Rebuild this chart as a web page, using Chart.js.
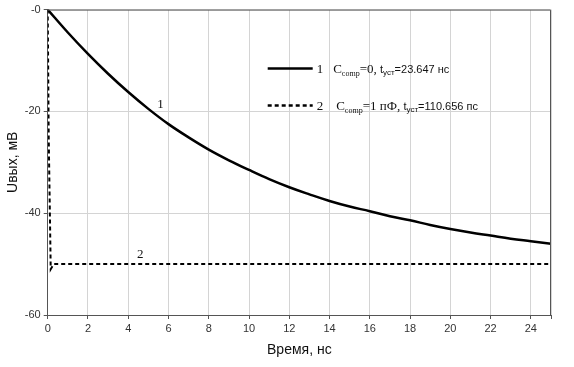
<!DOCTYPE html>
<html lang="ru">
<head>
  <meta charset="UTF-8">
  <title>Uвых(t)</title>
  <script src="https://cdn.jsdelivr.net/npm/chart.js"></script>
  <style>
    body {
      margin: 0;
      padding: 0;
      background: white;
    }
    #wrap {
      width: 574px;
      height: 367px;
    }
  </style>
</head>
<body>
<div id="wrap"><canvas id="chart"></canvas></div>

<script>
  // Time axis, ns
  const timeNs = [0, 1, 2, 3, 4, 5, 6, 7, 8, 9, 10, 11, 12, 13, 14, 15, 16, 17, 18, 19, 20, 21, 22, 23, 24, 25];
  // Curve 1: Ccomp = 0
  const curve1 = [0, -4.5, -8.7, -12.6, -16.2, -19.5, -22.5, -25.1, -27.5, -29.6, -31.5, -33.3, -34.9, -36.3,
    -37.6, -38.7, -39.6, -40.6, -41.4, -42.3, -43.1, -43.8, -44.4, -45.0, -45.5, -46.0];
  // Curve 2: Ccomp = 1 pF (fast settling)
  const curve2Time = [0, 0.05, 0.15, 0.3, 25];
  const curve2 = [0, -25, -51, -50, -50];

  const yTicks = [0, -20, -40, -60];
  const curveLabels = [
    { text: "1", x: 5.6, y: -18.6 },
    { text: "2", x: 4.6, y: -48.2 }
  ];

  const points1 = timeNs.map((t, i) => ({ x: t, y: curve1[i] }));
  const points2 = curve2Time.map((t, i) => ({ x: t, y: curve2[i] }));

  const serif = '"Liberation Serif", "DejaVu Serif", serif';
  const sans = '"Liberation Sans", Arial, sans-serif';

  // frame + curve numbers + legend with subscripts
  const decorPlugin = {
    id: "decor",
    afterDatasetsDraw(chart) {
      const ctx = chart.ctx;
      const area = chart.chartArea;
      const xs = chart.scales.x;
      const ys = chart.scales.y;

      ctx.save();
      ctx.strokeStyle = "#555";
      ctx.lineWidth = 1;
      ctx.beginPath();
      ctx.moveTo(area.left, area.top + 0.5);
      ctx.lineTo(area.right - 0.5, area.top + 0.5);
      ctx.lineTo(area.right - 0.5, area.bottom);
      ctx.stroke();

      ctx.fillStyle = "#111";
      ctx.font = "13px " + serif;
      ctx.textAlign = "center";
      ctx.textBaseline = "middle";
      curveLabels.forEach(l => {
        ctx.fillText(l.text, xs.getPixelForValue(l.x), ys.getPixelForValue(l.y));
      });

      // legend
      const rows = [
        { dash: [], parts: [
          ["1", 13, serif, 0, 10], ["C", 13, serif, 0, 0], ["comp", 8, serif, 3, 0],
          ["=0, ", 13, serif, 0, 0], ["t", 11, sans, 0, 0], ["уст", 8, sans, 2, 0], ["=23.647 нс", 11, sans, 0, 0]
        ] },
        { dash: [4, 3], parts: [
          ["2", 13, serif, 0, 13], ["C", 13, serif, 0, 0], ["comp", 8, serif, 3, 0],
          ["=1 пФ, ", 13, serif, 0, 0], ["t", 11, sans, 0, 0], ["уст", 8, sans, 2, 0], ["=110.656 пс", 11, sans, 0, 0]
        ] }
      ];
      const lx = area.left + 220;
      let ly = area.top + 59;
      ctx.textAlign = "left";
      ctx.textBaseline = "alphabetic";
      rows.forEach(row => {
        ctx.strokeStyle = "#000";
        ctx.lineWidth = 2.5;
        ctx.setLineDash(row.dash);
        ctx.beginPath();
        ctx.moveTo(lx, ly);
        ctx.lineTo(lx + 45, ly);
        ctx.stroke();
        ctx.setLineDash([]);
        let tx = lx + 49;
        row.parts.forEach(([s, size, fam, drop, gap]) => {
          ctx.font = size + "px " + fam;
          ctx.fillText(s, tx, ly + 4 + drop);
          tx += ctx.measureText(s).width + gap;
        });
        ly += 37;
      });
      ctx.restore();
    }
  };

  new Chart(document.getElementById("chart"), {
    type: "line",
    data: {
      datasets: [
        {
          label: "1",
          data: points1,
          borderColor: "#000",
          borderWidth: 2.5,
          pointRadius: 0,
          tension: 0.4,
          fill: false
        },
        {
          label: "2",
          data: points2,
          borderColor: "#000",
          borderWidth: 2,
          borderDash: [4, 3],
          pointRadius: 0,
          tension: 0,
          fill: false
        }
      ]
    },
    options: {
      responsive: true,
      maintainAspectRatio: false,
      animation: false,
      layout: { padding: { top: 8, right: 23, bottom: 4, left: 5 } },
      plugins: {
        legend: { display: false },
        tooltip: { enabled: false }
      },
      scales: {
        x: {
          type: "linear",
          min: 0,
          max: 25,
          grid: { color: "#d4d4d4", tickColor: "#555", tickLength: 4 },
          border: { color: "#555" },
          ticks: {
            stepSize: 2,
            color: "#333",
            font: { family: sans, size: 11 },
            maxRotation: 0,
            padding: 3,
            callback: v => (v % 2 === 0 && v <= 24 ? v : "")
          },
          title: {
            display: true,
            text: "Время, нс",
            color: "#111",
            font: { family: sans, size: 14 },
            padding: { top: 4 }
          }
        },
        y: {
          min: -60,
          max: 0,
          afterBuildTicks: axis => {
            axis.ticks = yTicks.map(v => ({ value: v }));
          },
          grid: { color: "#d4d4d4", tickColor: "#555", tickLength: 4 },
          border: { color: "#555" },
          ticks: {
            color: "#333",
            font: { family: sans, size: 11 },
            padding: 3,
            callback: v => (v === 0 ? "-0" : v)
          },
          title: {
            display: true,
            text: "Uвых, мВ",
            color: "#111",
            font: { family: sans, size: 14 },
            padding: { top: 0, bottom: 0 }
          }
        }
      }
    },
    plugins: [decorPlugin]
  });
</script>
</body>
</html>
